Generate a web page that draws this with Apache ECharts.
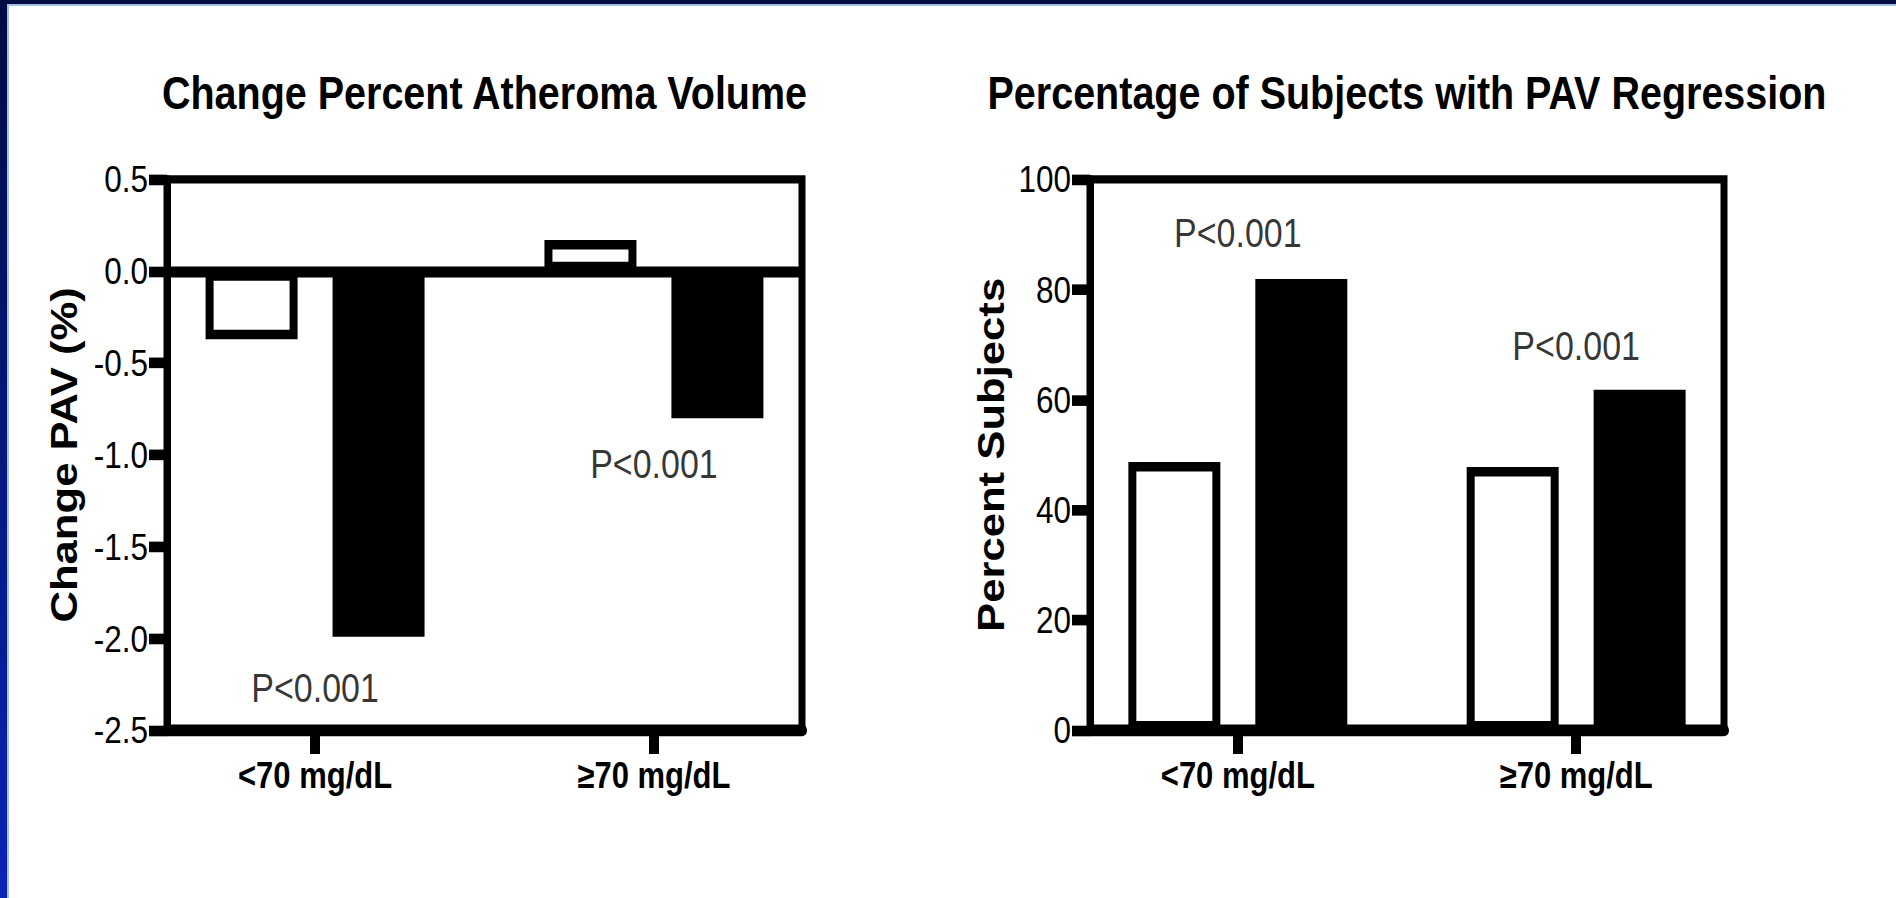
<!DOCTYPE html>
<html>
<head>
<meta charset="utf-8">
<script src="https://cdn.jsdelivr.net/npm/echarts@6/dist/echarts.min.js"></script>
<style>
html,body{margin:0;padding:0;background:#fff;width:1896px;height:898px;overflow:hidden;}
#wrap{position:absolute;left:0;top:0;width:1896px;height:761px;transform-origin:0 0;transform:scaleY(1.18);}
#chart{width:1896px;height:761px;}
#topband{position:absolute;left:0;top:0;width:1896px;height:4px;background:#000c42;}
#topline{position:absolute;left:9px;top:4px;width:1887px;height:2px;background:#a3bedf;}
#leftband{position:absolute;left:0;top:0;width:7px;height:898px;background:linear-gradient(#000c42,#0a24b6);}
#leftline{position:absolute;left:7px;top:4px;width:2px;height:894px;background:#a3bedf;}
</style>
</head>
<body>
<div id="wrap"><div id="chart"></div></div>
<div id="topband"></div><div id="topline"></div><div id="leftband"></div><div id="leftline"></div>
<script>
// ---- data ----
const categories = ['<70 mg/dL', '\u226570 mg/dL'];
const pavTitle = 'Change Percent Atheroma Volume';
const regTitle = 'Percentage of Subjects with PAV Regression';
const pavAxisName = 'Change PAV (%)';
const regAxisName = 'Percent Subjects';
const pavWhite = [-0.37, 0.17];
const pavBlack = [-1.99, -0.80];
const regWhite = [48.7, 47.8];
const regBlack = [81.9, 61.8];
const pLabels = ['P<0.001', 'P<0.001'];
const pavPLabelY = [-2.27, -1.05];
const regPLabelY = [90.3, 69.8];

// ---- style / layout ----
const SANS = "'Liberation Sans',Arial,sans-serif";
const grids = [
  {left: 167, top: 152, width: 635, height: 467},
  {left: 1090, top: 152, width: 634, height: 467}
];
const xMin = 0.563, xMax = 2.437;

function xAxisCfg(gi) {
  return {
    type: 'value', gridIndex: gi, min: xMin, max: xMax,
    axisLine: {show: true, onZero: false, lineStyle: {color: '#000', width: 10}},
    axisTick: {show: true, customValues: [1, 2], length: 20, lineStyle: {color: '#000', width: 10}},
    axisLabel: {show: true, customValues: [1, 2], formatter: v => categories[Math.round(v) - 1],
      margin: 22, fontFamily: SANS, fontWeight: 'bold', fontSize: 31, color: '#000'},
    splitLine: {show: false}
  };
}
function yAxisCfg(gi, min, max, interval, fmt, name, gap) {
  return {
    type: 'value', gridIndex: gi, min: min, max: max, interval: interval,
    axisLine: {show: true, lineStyle: {color: '#000', width: 7}},
    axisTick: {show: true, length: 18, lineStyle: {color: '#000', width: 9}},
    axisLabel: {margin: 19, formatter: fmt, fontFamily: SANS, fontSize: 31.5, color: '#000'},
    splitLine: {show: false},
    name: name, nameLocation: 'middle', nameGap: gap,
    nameTextStyle: {fontFamily: SANS, fontWeight: 'bold', fontSize: 37, color: '#000'}
  };
}
function barSeries(gi, vals, fill, extra) {
  return Object.assign({
    type: 'bar', xAxisIndex: gi, yAxisIndex: gi,
    data: vals.map((v, i) => [i + 1, v]),
    barWidth: 92, barGap: '38%',
    itemStyle: {color: fill, borderColor: '#000', borderWidth: 8},
    emphasis: {disabled: true}, silent: true
  }, extra || {});
}
function pSeries(gi, ys) {
  return {
    type: 'scatter', xAxisIndex: gi, yAxisIndex: gi,
    data: ys.map((y, i) => [i + 1, y]),
    symbolSize: 1, itemStyle: {color: 'rgba(0,0,0,0)'},
    label: {show: true, position: 'inside', formatter: p => pLabels[p.dataIndex],
      fontFamily: SANS, fontSize: 34, color: '#000'},
    emphasis: {disabled: true}, silent: true, z: 5
  };
}
const titleStyle = {fontFamily: SANS, fontWeight: 'bold', fontSize: 39.5, color: '#000'};

const chart = echarts.init(document.getElementById('chart'), null, {renderer: 'svg'});
chart.setOption({
  animation: false,
  backgroundColor: 'transparent',
  title: [
    {text: pavTitle, left: grids[0].left + grids[0].width / 2, top: 58.6, textAlign: 'center', padding: 0, textStyle: titleStyle},
    {text: regTitle, left: grids[1].left + grids[1].width / 2, top: 58.6, textAlign: 'center', padding: 0, textStyle: titleStyle}
  ],
  grid: grids.map(g => Object.assign({show: true, borderColor: '#000', borderWidth: 7, backgroundColor: 'transparent', containLabel: false}, g)),
  xAxis: [xAxisCfg(0), xAxisCfg(1)],
  yAxis: [
    yAxisCfg(0, -2.5, 0.5, 0.5, v => v.toFixed(1), pavAxisName, 84),
    yAxisCfg(1, 0, 100, 20, v => String(v), regAxisName, 80)
  ],
  series: [
    barSeries(0, pavWhite, '#fff'),
    barSeries(0, pavBlack, '#000', {
      markLine: {silent: true, symbol: 'none', label: {show: false},
        lineStyle: {color: '#000', width: 9.3, type: 'solid'},
        emphasis: {disabled: true}, data: [{yAxis: 0}]}
    }),
    pSeries(0, pavPLabelY),
    barSeries(1, regWhite, '#fff'),
    barSeries(1, regBlack, '#000'),
    pSeries(1, regPLabelY)
  ]
});
</script>
</body>
</html>
